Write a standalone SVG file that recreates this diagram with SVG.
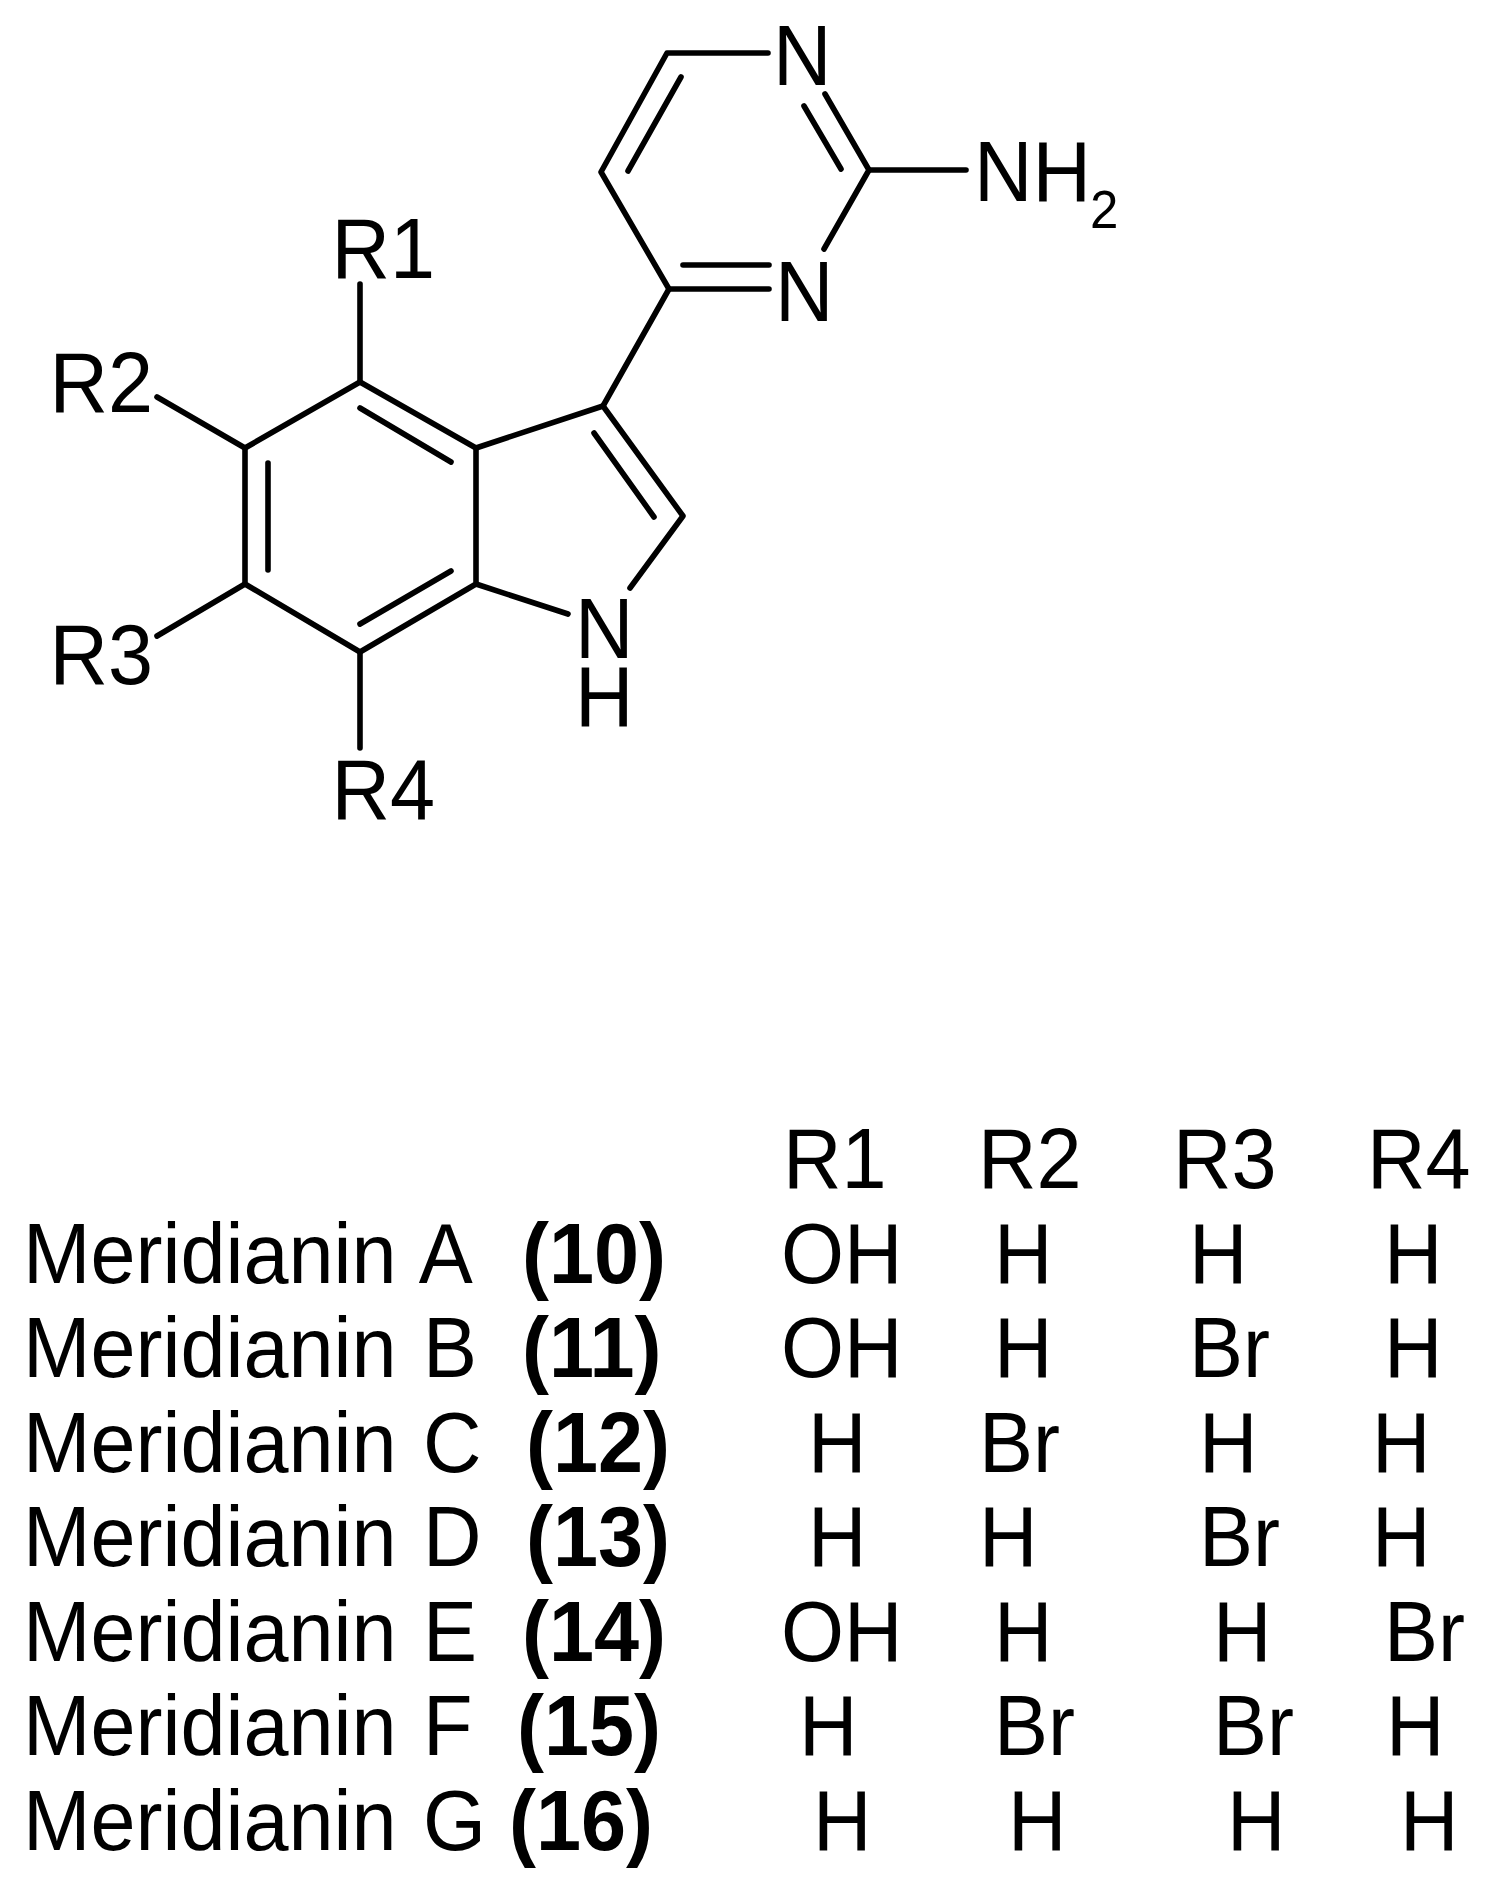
<svg xmlns="http://www.w3.org/2000/svg" width="1492" height="1888" viewBox="0 0 1492 1888">
<style>
text{font-family:"Liberation Sans",Arial,sans-serif;font-size:81px;fill:#000;word-spacing:4px}
.b{font-weight:700}
.s{font-size:51px}
#bonds path{fill:none;stroke:#000;stroke-width:5.6;stroke-linecap:round;stroke-linejoin:round}
</style>
<rect width="1492" height="1888" fill="#fff"/>
<g id="bonds">
<path d="M768 53H667L601 172L669 289H769"/>
<path d="M681 77L628 171"/>
<path d="M683 265H769"/>
<path d="M825 94L869 170L824 249"/>
<path d="M804 106L841 169"/>
<path d="M869 170H966"/>
<path d="M669 289L603 406"/>
<path d="M360 382L245 448V584L360 652L476 584V448Z"/>
<path d="M360 408L451 462"/>
<path d="M268 463V570"/>
<path d="M360 624L451 571"/>
<path d="M476 448L603 406L683 516L630 588"/>
<path d="M594 433L654 517"/>
<path d="M476 584L568 614"/>
<path d="M360 284V382"/>
<path d="M157 397L245 448"/>
<path d="M157 636L245 584"/>
<path d="M360 652V748"/>
</g>
<g transform="scale(1 1.06)">
<g id="atoms">
<g id="n1"><text x="773" y="80.19">N</text></g>
<g id="n3"><text x="775" y="302.83">N</text></g>
<g id="nh2"><text x="974" y="189.62">NH</text><text class="s" x="1090" y="215.09">2</text></g>
<g id="indole-nh"><text x="575" y="620.75">N</text><text x="575" y="684.91">H</text></g>
<g id="r1"><text x="331.5" y="262.26">R1</text></g>
<g id="r2"><text x="49.5" y="388.68">R2</text></g>
<g id="r3"><text x="49.5" y="645.28">R3</text></g>
<g id="r4"><text x="331.5" y="772.64">R4</text></g>
</g>
<g id="table">
<g id="header"><text x="783" y="1120.75">R1</text><text x="978" y="1120.75">R2</text><text x="1173" y="1120.75">R3</text><text x="1367" y="1120.75">R4</text></g>
<g id="row-a"><text x="23" y="1210.38">Meridianin A</text><text class="b" x="522" y="1210.38">(10)</text><text x="781" y="1210.38">OH</text><text x="994" y="1210.38">H</text><text x="1189" y="1210.38">H</text><text x="1384" y="1210.38">H</text></g>
<g id="row-b"><text x="23" y="1299.06">Meridianin B</text><text class="b" x="522" y="1299.06">(11)</text><text x="781" y="1299.06">OH</text><text x="994" y="1299.06">H</text><text x="1189" y="1299.06">Br</text><text x="1384" y="1299.06">H</text></g>
<g id="row-c"><text x="23" y="1388.68">Meridianin C</text><text class="b" x="526" y="1388.68">(12)</text><text x="808" y="1388.68">H</text><text x="979" y="1388.68">Br</text><text x="1199" y="1388.68">H</text><text x="1372" y="1388.68">H</text></g>
<g id="row-d"><text x="23" y="1477.36">Meridianin D</text><text class="b" x="526" y="1477.36">(13)</text><text x="808" y="1477.36">H</text><text x="979" y="1477.36">H</text><text x="1199" y="1477.36">Br</text><text x="1372" y="1477.36">H</text></g>
<g id="row-e"><text x="23" y="1566.98">Meridianin E</text><text class="b" x="522" y="1566.98">(14)</text><text x="781" y="1566.98">OH</text><text x="994" y="1566.98">H</text><text x="1213" y="1566.98">H</text><text x="1384" y="1566.98">Br</text></g>
<g id="row-f"><text x="23" y="1655.66">Meridianin F</text><text class="b" x="517" y="1655.66">(15)</text><text x="799" y="1655.66">H</text><text x="994" y="1655.66">Br</text><text x="1213" y="1655.66">Br</text><text x="1386" y="1655.66">H</text></g>
<g id="row-g"><text x="23" y="1745.28">Meridianin G</text><text class="b" x="509" y="1745.28">(16)</text><text x="813" y="1745.28">H</text><text x="1008" y="1745.28">H</text><text x="1227" y="1745.28">H</text><text x="1400" y="1745.28">H</text></g>
</g>
</g>
</svg>
